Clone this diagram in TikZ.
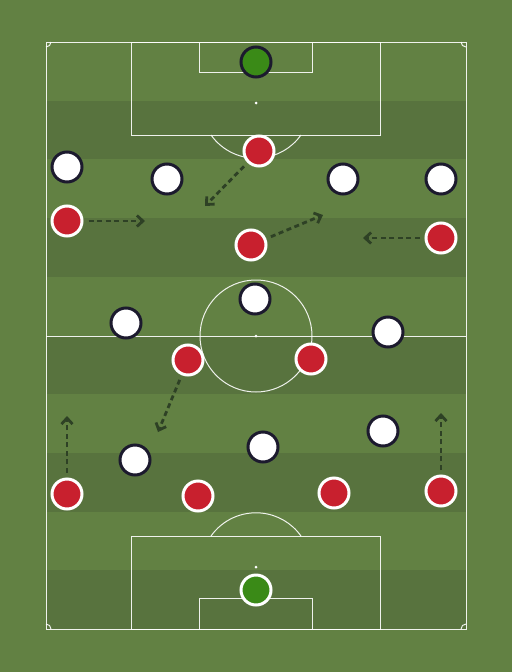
\documentclass[tikz,border=0pt]{standalone}
\usetikzlibrary{arrows.meta,shadows}
\definecolor{grass}{RGB}{98,129,67}
\definecolor{grassdark}{RGB}{88,115,62}
\definecolor{kit}{RGB}{200,32,46}
\definecolor{keeper}{RGB}{58,138,23}
\definecolor{rim}{RGB}{28,26,46}
\definecolor{run}{RGB}{46,65,37}
\begin{document}
\begin{tikzpicture}[x=1pt,y=-1pt]

\tikzstyle{player}=[circle,minimum size=30pt,inner sep=0pt,line width=3pt,drop shadow={opacity=0.2,shadow xshift=0.5pt,shadow yshift=-1.5pt}]
\tikzstyle{home}=[player,draw=rim,fill=white]
\tikzstyle{away}=[player,draw=white,fill=kit]
\tikzstyle{pitch}=[draw=white,opacity=0.9,line width=1pt]
\tikzstyle{edge}=[-{Straight Barb[length=6pt,width=11pt,line width=2.8pt]},line width=2.8pt,dash pattern=on 5pt off 3.5pt,draw=run,shorten <=5pt]

% grass and stripes
\fill[grass](0,0)rectangle(512,672);
\foreach \k in {1,3,5,7,9}
  \fill[grassdark](46,{42+58.7*\k})rectangle(466,{42+58.7*(\k+1)});

% lines
\draw[pitch](46,42)rectangle(466,629);
\draw[pitch](46,336)--(466,336);
\draw[pitch](256,336)circle(56);
\fill[white](256,336)circle(1.5);
\draw[pitch](131,42)rectangle(380,135);
\draw[pitch](199,42)rectangle(312,72);
\fill[white](256,103)circle(1.5);
\draw[pitch](211,135)arc[start angle=144.6,end angle=35.4,radius=55.2];
\draw[pitch](131,629)rectangle(380,536);
\draw[pitch](199,629)rectangle(312,598);
\fill[white](256,567)circle(1.5);
\draw[pitch](211,536)arc[start angle=215.4,end angle=324.6,radius=55.2];
\draw[pitch](51,42)arc[start angle=0,end angle=90,radius=5];
\draw[pitch](461,42)arc[start angle=180,end angle=90,radius=5];
\draw[pitch](51,629)arc[start angle=0,end angle=-90,radius=5];
\draw[pitch](461,629)arc[start angle=180,end angle=270,radius=5];

% white side
\node[home,fill=keeper](g1)at(256,62){};
\node[home](w1)at(67,167){};
\node[home](w2)at(167,179){};
\node[home](w3)at(343,179){};
\node[home](w4)at(441,179){};
\node[home](w5)at(126,323){};
\node[home](w6)at(255,299){};
\node[home](w7)at(388,332){};
\node[home](w8)at(135,460){};
\node[home](w9)at(263,447){};
\node[home](w10)at(383,431){};

% red side
\node[away,fill=keeper](g2)at(256,590){};
\node[away](r1)at(259,151){};
\node[away](r2)at(67,221){};
\node[away](r3)at(251,245){};
\node[away](r4)at(441,238){};
\node[away](r5)at(188,360){};
\node[away](r6)at(311,359){};
\node[away](r7)at(67,494){};
\node[away](r8)at(198,496){};
\node[away](r9)at(334,493){};
\node[away](r10)at(441,491){};

% runs
\coordinate(t1)at(205,206);
\coordinate(t2)at(145,221);
\coordinate(t3)at(323,215);
\coordinate(t4)at(363,238);
\coordinate(t5)at(158,432);
\coordinate(t7)at(67,416);
\coordinate(t10)at(441,413);

\draw[edge](r1)--(t1);
\draw[edge](r2)--(t2);
\draw[edge](r3)--(t3);
\draw[edge](r4)--(t4);
\draw[edge](r5)--(t5);
\draw[edge](r7)--(t7);
\draw[edge](r10)--(t10);

\end{tikzpicture}
\end{document}
